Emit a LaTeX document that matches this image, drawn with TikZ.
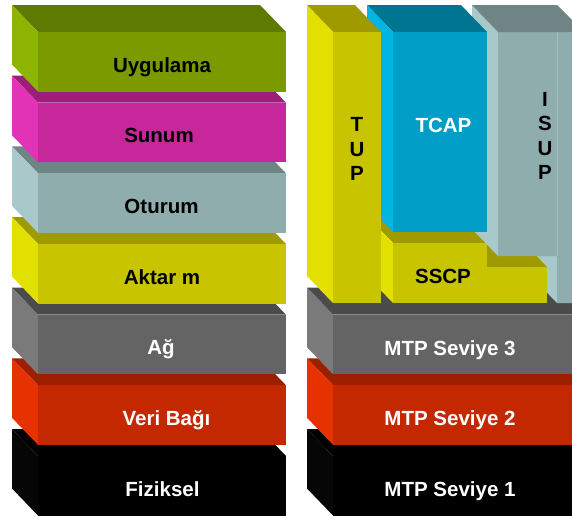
\documentclass[tikz,border=0pt]{standalone}
\usepackage{fontspec}
\setmainfont{Liberation Sans}

% face colours: F = front, T = top, S = left side
\definecolor{appF}{RGB}{122,154,0}\definecolor{appT}{RGB}{95,122,0}\definecolor{appS}{RGB}{140,180,0}
\definecolor{preF}{RGB}{198,40,155}\definecolor{preT}{RGB}{155,30,120}\definecolor{preS}{RGB}{226,50,182}
\definecolor{sesF}{RGB}{143,173,173}\definecolor{sesT}{RGB}{111,133,133}\definecolor{sesS}{RGB}{168,200,202}
\definecolor{yelF}{RGB}{200,196,0}\definecolor{yelT}{RGB}{158,154,0}\definecolor{yelS}{RGB}{226,224,0}
\definecolor{netF}{RGB}{100,100,100}\definecolor{netT}{RGB}{75,75,75}\definecolor{netS}{RGB}{122,122,122}
\definecolor{dlF}{RGB}{196,40,0}\definecolor{dlT}{RGB}{156,32,0}\definecolor{dlS}{RGB}{230,50,0}
\definecolor{phF}{RGB}{0,0,0}\definecolor{phT}{RGB}{0,0,0}\definecolor{phS}{RGB}{6,6,6}
\definecolor{tcF}{RGB}{0,158,198}\definecolor{tcT}{RGB}{0,117,145}\definecolor{tcS}{RGB}{0,181,226}
\definecolor{isLine}{RGB}{160,190,190}

% #1,#2 front top-left corner; #3 width; #4 height; #5 front, #6 top, #7 side colour
\newcommand{\drawblock}[7]{%
  \fill[#6] (#1,#2) -- ++(-26,-27) -- ++(#3,0) -- ++(26,27) -- cycle;
  \fill[#7] (#1,#2) -- ++(-26,-27) -- ++(0,#4) -- ++(26,27) -- cycle;
  \fill[#5] (#1,#2) rectangle ++(#3,#4);
}

\begin{document}
\begin{tikzpicture}[x=1pt,y=-1pt,
  lbl/.style={font=\bfseries\fontsize{20.5}{25}\selectfont,inner sep=0pt,anchor=base},
  stack/.style={font=\bfseries\fontsize{20.5}{24.5}\selectfont,inner sep=0pt,anchor=north,align=center}]
\useasboundingbox (0,0) rectangle (572,517);
\clip (0,0) rectangle (572,517);

% OSI stack, drawn from the bottom up
\drawblock{38}{456}{248}{59.5}{phF}{phT}{phS}
\drawblock{38}{385.3}{248}{59.5}{dlF}{dlT}{dlS}
\drawblock{38}{314.7}{248}{59.5}{netF}{netT}{netS}
\drawblock{38}{244}{248}{59.5}{yelF}{yelT}{yelS}
\drawblock{38}{173.3}{248}{59.5}{sesF}{sesT}{sesS}
\drawblock{38}{102.7}{248}{59.5}{preF}{preT}{preS}
\drawblock{38}{32}{248}{59.5}{appF}{appT}{appS}

\node[lbl] (uyg) at (162,72) {Uygulama};
\node[lbl] (sun) at (159,142.5) {Sunum};
\node[lbl] (otu) at (161.5,213) {Oturum};
\node[lbl] (akt) at (162,284) {Aktar m};
\node[lbl,text=white] (ag) at (161,354.5) {Ağ};
\node[lbl,text=white] (veri) at (166.5,425.5) {Veri Bağı};
\node[lbl,text=white] (fiz) at (162.5,496.5) {Fiziksel};

% SS7 stack: MTP levels
\drawblock{333}{456}{260}{59.5}{phF}{phT}{phS}
\drawblock{333}{385.3}{260}{59.5}{dlF}{dlT}{dlS}
\drawblock{333}{314.7}{260}{59.5}{netF}{netT}{netS}

% ISUP: side face of its lower right leg
\fill[sesS] (531,5) -- (557,32) -- (557,303) -- (531,276) -- cycle;
% SSCP and the small step beside it
\drawblock{487}{267}{60}{36}{yelF}{yelT}{yelS}
\drawblock{393}{243}{94}{60}{yelF}{yelT}{yelS}
% ISUP: main side, L-shaped front and top
\fill[sesS] (472,5) -- (498,32) -- (498,256) -- (472,229) -- cycle;
\fill[sesF] (498,32) -- (600,32) -- (600,303) -- (557,303) -- (557,256) -- (498,256) -- cycle;
\fill[sesT] (472,5) -- (557,5) -- (584,32) -- (498,32) -- cycle;
\draw[isLine,line width=1pt] (557,32) -- (557,256);
% TCAP and TUP
\drawblock{393}{32}{94}{200}{tcF}{tcT}{tcS}
\drawblock{333}{32}{48}{271}{yelF}{yelT}{yelS}

\node[stack] (tup) at (357,117.5) {T\\U\\P};
\node[lbl,text=white] (tcap) at (443.5,132) {TCAP};
\node[stack] (isup) at (545,92) {I\\S\\U\\P};
\node[lbl] (sscp) at (443,283) {SSCP};

\node[lbl,text=white] (mtp3) at (450,355) {MTP Seviye 3};
\node[lbl,text=white] (mtp2) at (450,425.5) {MTP Seviye 2};
\node[lbl,text=white] (mtp1) at (450,496.5) {MTP Seviye 1};
\end{tikzpicture}
\end{document}
